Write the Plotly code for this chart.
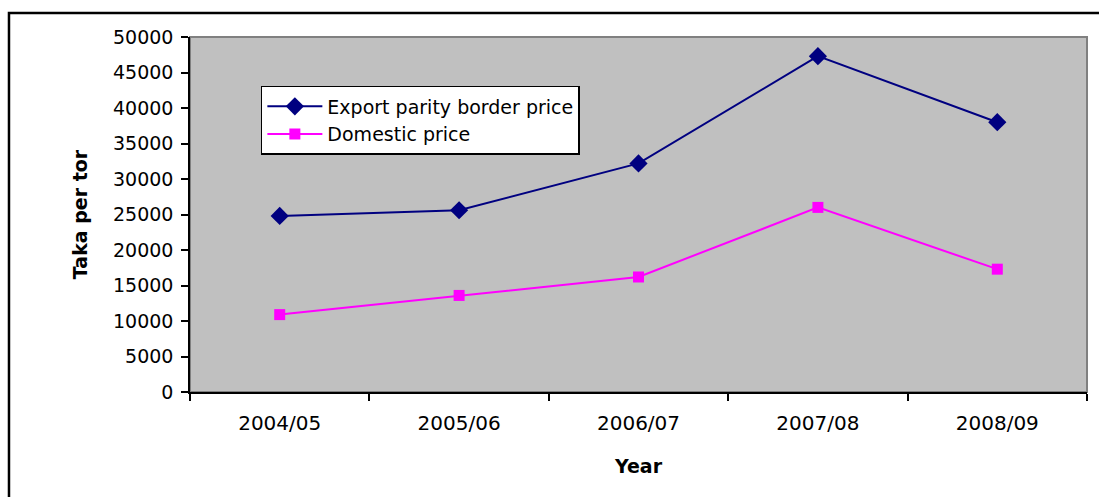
import plotly.graph_objects as go

years = ["2004/05", "2005/06", "2006/07", "2007/08", "2008/09"]
export_parity = [24800, 25600, 32200, 47300, 38000]
domestic = [10900, 13600, 16200, 26000, 17300]

FONT = "DejaVu Sans, Verdana, sans-serif"

fig = go.Figure()
fig.add_trace(go.Scatter(
    x=years, y=export_parity, name="Export parity border price",
    mode="lines+markers",
    line=dict(color="#000080", width=2),
    marker=dict(symbol="diamond", size=14, color="#000080"),
))
fig.add_trace(go.Scatter(
    x=years, y=domestic, name="Domestic price",
    mode="lines+markers",
    line=dict(color="#FF00FF", width=2),
    marker=dict(symbol="square", size=11, color="#FF00FF"),
))

# grey frame of the plotting area (top/right), axes drawn black on top
fig.add_shape(type="rect", xref="x domain", yref="y domain",
              x0=0, x1=1, y0=0, y1=1, line=dict(color="#808080", width=2),
              layer="below")
# outer chart border
fig.add_shape(type="rect", xref="paper", yref="paper",
              x0=-0.2018, x1=1.03, y0=-0.33, y1=1.0676,
              line=dict(color="black", width=2.5))

fig.update_layout(
    width=1099, height=497,
    margin=dict(l=190, r=12, t=37, b=105),
    paper_bgcolor="white",
    plot_bgcolor="#C0C0C0",
    font=dict(family=FONT, size=19, color="black"),
    showlegend=True,
    legend=dict(
        x=0.079, y=0.862, xanchor="left", yanchor="top",
        bgcolor="white", bordercolor="black", borderwidth=1.5,
        font=dict(family=FONT, size=19, color="black"),
        tracegroupgap=0, itemwidth=55,
    ),
    xaxis=dict(
        type="category", range=[-0.5, len(years) - 0.5],
        showline=True, linecolor="black", linewidth=1.5,
        ticks="outside", ticklen=7, tickcolor="black", tickwidth=1.5,
        tickson="boundaries",
        showgrid=False, zeroline=False,
        tickfont=dict(family=FONT, size=20),
        ticklabelstandoff=12,
        title=dict(text="<b>Year</b>", font=dict(family=FONT, size=19), standoff=26),
    ),
    yaxis=dict(
        range=[0, 50000], dtick=5000, tick0=0, tickformat="d",
        showline=True, linecolor="black", linewidth=1.5,
        ticks="outside", ticklen=7, tickcolor="black", tickwidth=1.5,
        showgrid=False, zeroline=False,
        tickfont=dict(family=FONT, size=19),
        ticklabelstandoff=4,
        title=dict(text="<b>Taka per tor</b>", font=dict(family=FONT, size=19), standoff=20),
    ),
)

fig.write_html("out.html")
